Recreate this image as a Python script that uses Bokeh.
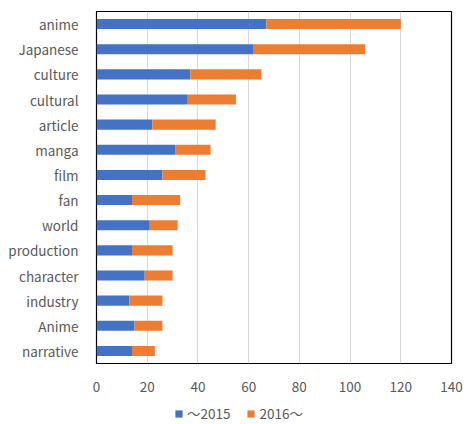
from bokeh.plotting import figure
from bokeh.layouts import column
from bokeh.models import Legend, LegendItem, ColumnDataSource, FixedTicker
from bokeh.embed import file_html
from bokeh.resources import INLINE

categories = ["anime", "Japanese", "culture", "cultural", "article", "manga", "film",
              "fan", "world", "production", "character", "industry", "Anime", "narrative"]
until_2015 = [67, 62, 37, 36, 22, 31, 26, 14, 21, 14, 19, 13, 15, 14]
from_2016 = [53, 44, 28, 19, 25, 14, 17, 19, 11, 16, 11, 13, 11, 9]
series_names = ["～2015", "2016～"]
colors = ["#4472C4", "#ED7D31"]
x_ticks = [0, 20, 40, 60, 80, 100, 120, 140]

FONT = "Noto Sans CJK JP"
GREY = "#595959"

src = ColumnDataSource(dict(cat=categories, a=until_2015, b=from_2016))

p = figure(width=466, height=400, y_range=list(reversed(categories)), x_range=(0, 140),
           output_backend="svg", toolbar_location=None,
           min_border_left=96, min_border_right=15, min_border_top=11, min_border_bottom=37)
p.background_fill_color = None
p.border_fill_color = "white"
p.outline_line_color = "black"
p.outline_line_width = 1.2

r = p.hbar_stack(["a", "b"], y="cat", height=0.4, source=src,
                 color=colors, line_color=None)

p.xgrid.ticker = FixedTicker(ticks=x_ticks)
p.xgrid.grid_line_color = "#D9D9D9"
p.xgrid.grid_line_width = 1
p.ygrid.grid_line_color = None

p.xaxis.ticker = FixedTicker(ticks=x_ticks)
p.xaxis.axis_line_color = None
p.xaxis.major_tick_line_color = None
p.xaxis.minor_tick_line_color = None
p.xaxis.major_label_standoff = 12
p.xaxis.major_label_text_font = FONT
p.xaxis.major_label_text_font_size = "13.5px"
p.xaxis.major_label_text_color = GREY

p.yaxis.axis_line_color = None
p.yaxis.major_tick_line_color = None
p.yaxis.minor_tick_line_color = None
p.yaxis.major_label_standoff = 12
p.yaxis.major_label_text_font = FONT
p.yaxis.major_label_text_font_size = "13.5px"
p.yaxis.major_label_text_color = GREY

# legend strip below the chart (same data; its y factors are not in this range, so only the legend shows)
pl = figure(width=466, height=24, x_range=(0, 140), y_range=["legend"],
            output_backend="svg", toolbar_location=None,
            x_axis_location=None, y_axis_location=None, min_border=0)
pl.outline_line_color = None
pl.grid.visible = False
pl.background_fill_color = "white"
pl.border_fill_color = "white"
lr = pl.hbar_stack(["a", "b"], y="cat", height=0.4, source=src, color=colors, line_color=None)

legend = Legend(items=[LegendItem(label=series_names[i], renderers=[lr[i]], index=0) for i in range(2)],
                orientation="horizontal", location=(78, 1))
legend.label_text_font = FONT
legend.label_text_font_size = "13.5px"
legend.label_text_color = GREY
legend.label_height = 14
legend.glyph_width = 9
legend.glyph_height = 9
legend.spacing = 16
legend.label_standoff = 4
legend.border_line_color = None
legend.background_fill_alpha = 0
legend.padding = 0
legend.margin = 0
pl.add_layout(legend, "center")

layout = column(p, pl, spacing=0)
open("out.html", "w").write(file_html(layout, INLINE))
